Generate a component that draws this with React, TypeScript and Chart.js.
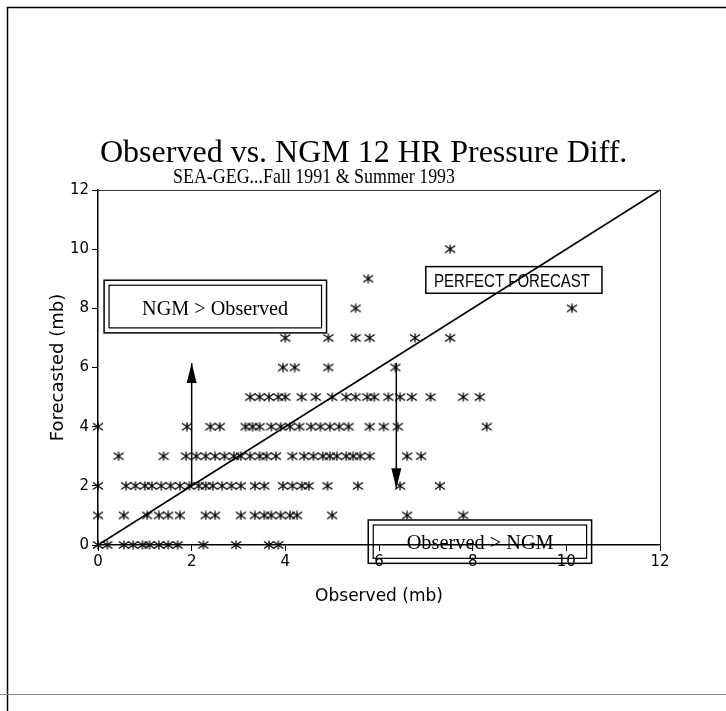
import React, { useEffect, useRef } from "react";
import { Chart, registerables } from "chart.js";

Chart.register(...registerables);

// ---------- data ----------
const titleText = "Observed vs. NGM 12 HR Pressure Diff.";
const subtitleText = "SEA-GEG...Fall 1991 & Summer 1993";
const xAxisTitle = "Observed (mb)";
const yAxisTitle = "Forecasted (mb)";
const tickValues = [0, 2, 4, 6, 8, 10, 12];

// observed values (mb) for each forecasted value row
const obsForecast0 = [0, 0.2, 0.55, 0.75, 0.95, 1.1, 1.3, 1.5, 1.7, 2.25, 2.95, 3.65, 3.85];
const obsForecast1 = [0, 0.55, 1.05, 1.3, 1.5, 1.75, 2.3, 2.5, 3.05, 3.35, 3.55, 3.7, 3.9, 4.1, 4.25, 5.0, 6.6, 7.8];
const obsForecast2 = [0, 0.6, 0.8, 1.0, 1.15, 1.35, 1.55, 1.75, 1.95, 2.15, 2.3, 2.45, 2.65, 2.85, 3.05, 3.35, 3.55, 3.95, 4.15, 4.35, 4.5, 4.9, 5.55, 6.45, 7.3];
const obsForecast3 = [0.44, 1.4, 1.88, 2.1, 2.3, 2.5, 2.7, 2.9, 3.05, 3.25, 3.45, 3.6, 3.8, 4.15, 4.4, 4.6, 4.8, 4.95, 5.1, 5.3, 5.45, 5.6, 5.8, 6.6, 6.9];
const obsForecast4 = [0, 1.9, 2.4, 2.6, 3.15, 3.3, 3.45, 3.7, 3.9, 4.1, 4.3, 4.55, 4.75, 4.95, 5.15, 5.35, 5.8, 6.1, 6.4, 8.3];
const obsForecast5 = [3.25, 3.45, 3.65, 3.85, 4.0, 4.35, 4.65, 5.0, 5.3, 5.5, 5.75, 5.9, 6.2, 6.45, 6.7, 7.1, 7.8, 8.15];
const obsForecast6 = [3.95, 4.2, 4.92, 6.35];
const obsForecast7 = [4.0, 4.92, 5.5, 5.8, 6.77, 7.52];
const obsForecast8 = [5.5, 10.12];
const obsForecast9 = [5.77];
const obsForecast10 = [7.52];

const forecastRows = [0, 1, 2, 3, 4, 5, 6, 7, 8, 9, 10];
const observedRows = [
  obsForecast0, obsForecast1, obsForecast2, obsForecast3, obsForecast4, obsForecast5,
  obsForecast6, obsForecast7, obsForecast8, obsForecast9, obsForecast10,
];

const perfectLine = [[0, 0], [12, 12]];
const upArrow = [[2, 2], [2, 6.15]];
const downArrow = [[6.37, 6.15], [6.37, 1.92]];

const boxLabels = ["NGM > Observed", "PERFECT FORECAST", "Observed > NGM"];

// ---------- helpers ----------
function makeStar(): HTMLCanvasElement {
  const c = document.createElement("canvas");
  c.width = 12;
  c.height = 10;
  const g = c.getContext("2d")!;
  g.strokeStyle = "#000";
  g.lineWidth = 1.3;
  g.beginPath();
  g.moveTo(6, 0.5);
  g.lineTo(6, 9.5);
  g.moveTo(1, 1.5);
  g.lineTo(11, 8.5);
  g.moveTo(11, 1.5);
  g.lineTo(1, 8.5);
  g.stroke();
  return c;
}

const toXY = (arr: number[][]) => arr.map(([x, y]) => ({ x, y }));

// annotation layout (data units)
const boxes = [
  { x0: 0.13, x1: 4.88, y0: 7.17, y1: 8.95, double: true, label: 0, tx: 2.5, ty: 7.78, font: '22px "Liberation Serif"', maxW: 146 },
  { x0: 7.0, x1: 10.76, y0: 8.51, y1: 9.41, double: false, label: 1, tx: 8.84, ty: 8.73, font: '18px "Liberation Sans"', maxW: 156 },
  { x0: 5.77, x1: 10.54, y0: -0.62, y1: 0.845, double: true, label: 2, tx: 8.16, ty: -0.135, font: '21px "Liberation Serif"', maxW: 147 },
];

const annotPlugin = {
  id: "annot",
  afterDatasetsDraw(chart: any) {
    const { ctx, chartArea: a } = chart;
    const xs = chart.scales.x;
    const ys = chart.scales.y;
    ctx.save();
    // plot frame (top / right)
    ctx.strokeStyle = "#333";
    ctx.lineWidth = 1;
    ctx.beginPath();
    ctx.moveTo(a.left, a.top + 0.5);
    ctx.lineTo(a.right, a.top + 0.5);
    ctx.moveTo(a.right + 0.5, a.top);
    ctx.lineTo(a.right + 0.5, a.bottom);
    ctx.stroke();

    // arrowheads
    const heads = [upArrow, downArrow];
    ctx.fillStyle = "#000";
    heads.forEach((arr) => {
      const [p0, p1] = arr;
      const x0 = xs.getPixelForValue(p0[0]);
      const y0 = ys.getPixelForValue(p0[1]);
      const x1 = xs.getPixelForValue(p1[0]);
      const y1 = ys.getPixelForValue(p1[1]);
      const ang = Math.atan2(y1 - y0, x1 - x0);
      const len = 20;
      const hw = 5;
      const bx = x1 - len * Math.cos(ang);
      const by = y1 - len * Math.sin(ang);
      ctx.beginPath();
      ctx.moveTo(x1, y1);
      ctx.lineTo(bx + hw * Math.sin(ang), by - hw * Math.cos(ang));
      ctx.lineTo(bx - hw * Math.sin(ang), by + hw * Math.cos(ang));
      ctx.closePath();
      ctx.fill();
    });

    // boxes
    boxes.forEach((b) => {
      const l = xs.getPixelForValue(b.x0);
      const r = xs.getPixelForValue(b.x1);
      const t = ys.getPixelForValue(b.y1);
      const bt = ys.getPixelForValue(b.y0);
      ctx.strokeStyle = "#000";
      ctx.lineWidth = 1.5;
      ctx.strokeRect(l, t, r - l, bt - t);
      if (b.double) {
        ctx.lineWidth = 1.2;
        ctx.strokeRect(l + 5, t + 5, r - l - 10, bt - t - 10);
      }
      ctx.font = b.font;
      ctx.fillStyle = "#000";
      ctx.textAlign = "center";
      ctx.textBaseline = "alphabetic";
      ctx.fillText(boxLabels[b.label], xs.getPixelForValue(b.tx), ys.getPixelForValue(b.ty), b.maxW);
    });
    ctx.restore();
  },
  afterDraw(chart: any) {
    const { ctx, width, height } = chart;
    ctx.save();
    // titles
    ctx.fillStyle = "#000";
    ctx.textAlign = "left";
    ctx.textBaseline = "alphabetic";
    ctx.font = '32px "Liberation Serif"';
    ctx.fillText(titleText, 100, 162, 528);
    ctx.font = '21px "Liberation Serif"';
    ctx.fillText(subtitleText, 173, 183, 282);
    // page frame
    ctx.strokeStyle = "#000";
    ctx.lineWidth = 1.5;
    ctx.beginPath();
    ctx.moveTo(width, 7.5);
    ctx.lineTo(7.5, 7.5);
    ctx.lineTo(7.5, height);
    ctx.stroke();
    ctx.strokeStyle = "#888";
    ctx.lineWidth = 1;
    ctx.beginPath();
    ctx.moveTo(0, 694.5);
    ctx.lineTo(width, 694.5);
    ctx.stroke();
    ctx.restore();
  },
};

export default function App() {
  const ref = useRef<HTMLCanvasElement | null>(null);

  useEffect(() => {
    if (!ref.current) return;
    const star = makeStar();
    const points: { x: number; y: number }[] = [];
    forecastRows.forEach((f, i) => {
      observedRows[i].forEach((o) => points.push({ x: o, y: f }));
    });
    const lineStyle = {
      showLine: true,
      borderColor: "#000",
      borderWidth: 1.5,
      pointRadius: 0,
      fill: false,
      clip: false as any,
    };
    const chart = new Chart(ref.current, {
      type: "scatter",
      data: {
        datasets: [
          {
            label: "Observations",
            data: points,
            pointStyle: star as any,
            pointRadius: 4,
            clip: false as any,
          } as any,
          { label: "Perfect forecast", data: toXY(perfectLine), ...lineStyle } as any,
          { label: "Up", data: toXY(upArrow), ...lineStyle } as any,
          { label: "Down", data: toXY(downArrow), ...lineStyle } as any,
        ],
      },
      options: {
        animation: false,
        responsive: false,
        devicePixelRatio: 1,
        layout: { padding: { top: 190, right: 66, bottom: 0, left: 0 } },
        plugins: {
          legend: { display: false },
          title: { display: false },
          tooltip: { enabled: false },
        },
        scales: {
          x: {
            type: "linear",
            min: 0,
            max: 12,
            afterFit: (s: any) => {
              s.height = 166;
            },
            afterBuildTicks: (s: any) => {
              s.ticks = tickValues.map((v) => ({ value: v }));
            },
            ticks: {
              color: "#000",
              font: { family: "DejaVu Sans", size: 15 },
              padding: 2,
              maxRotation: 0,
            },
            grid: { display: true, drawOnChartArea: false, drawTicks: true, tickLength: 6, color: "#000" },
            border: { display: true, color: "#000", width: 1.5 },
            title: {
              display: true,
              text: xAxisTitle,
              color: "#000",
              font: { family: "DejaVu Sans", size: 17 },
              padding: { top: 0, bottom: 104 },
            },
          },
          y: {
            type: "linear",
            min: 0,
            max: 12,
            afterFit: (s: any) => {
              s.width = 98;
            },
            afterBuildTicks: (s: any) => {
              s.ticks = tickValues.map((v) => ({ value: v }));
            },
            ticks: {
              color: "#000",
              font: { family: "DejaVu Sans", size: 15 },
              padding: 3,
            },
            grid: { display: true, drawOnChartArea: false, drawTicks: true, tickLength: 6, color: "#000" },
            border: { display: true, color: "#000", width: 1.5 },
            title: {
              display: true,
              text: yAxisTitle,
              color: "#000",
              font: { family: "DejaVu Sans", size: 18 },
              padding: { top: 48, bottom: 0 },
            },
          },
        },
      },
      plugins: [annotPlugin],
    });
    return () => chart.destroy();
  }, []);

  return (
    <div style={{ position: "absolute", left: 0, top: 0, width: 726, height: 711, background: "#fff" }}>
      <canvas ref={ref} width={726} height={711} style={{ display: "block", width: 726, height: 711 }} />
    </div>
  );
}
